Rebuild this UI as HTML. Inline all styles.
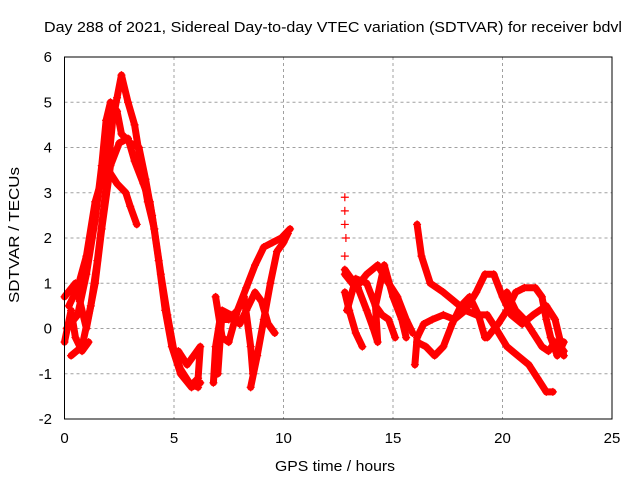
<!DOCTYPE html>
<html><head><meta charset="utf-8"><style>
body{margin:0;background:#fff}
svg{display:block;font-family:"Liberation Sans",sans-serif}
</style></head><body>
<svg id="chart" width="640" height="480">
<text x="44" y="32" font-size="15" textLength="578" lengthAdjust="spacingAndGlyphs">Day 288 of 2021, Sidereal Day-to-day VTEC variation (SDTVAR) for receiver bdvl</text>
<text x="275" y="471" font-size="15" textLength="120" lengthAdjust="spacingAndGlyphs">GPS time / hours</text>
<text transform="translate(19,303) rotate(-90)" font-size="15" textLength="136" lengthAdjust="spacingAndGlyphs">SDTVAR / TECUs</text>
<g id="grid"></g><g id="ticks"></g><g id="marks"></g>
<rect x="64.5" y="57" width="547.5" height="362" fill="none" stroke="#000" stroke-width="1"/>
</svg>
<script>
const xTicks=[0,5,10,15,20,25];
const yTicks=[-2,-1,0,1,2,3,4,5,6];
const arcA=[[0.3,-0.6],[0.8,-0.4],[1.2,0.5],[1.5,1.5],[1.8,2.7],[2.0,3.6],[2.2,4.6],[2.4,5.1],[2.6,5.6],[2.9,5.0],[3.2,4.5],[3.5,3.6],[3.8,2.8],[4.1,2.2],[4.4,1.2],[4.7,0.3],[5.0,-0.5],[5.3,-0.9],[5.7,-1.2],[6.1,-1.3]];
const arcB=[[0.1,0.0],[0.6,0.3],[1.0,1.2],[1.4,2.4],[1.7,3.6],[1.9,4.6],[2.1,5.0],[2.4,4.8],[2.6,4.3],[3.0,4.1],[3.4,4.0],[3.7,3.3],[4.0,2.5],[4.3,1.5],[4.6,0.4],[4.9,-0.4],[5.3,-1.0],[5.8,-1.3],[6.2,-1.2]];
const arcC=[[0.2,0.5],[0.6,0.9],[1.0,1.6],[1.4,2.8],[1.7,3.3],[2.0,3.5],[2.4,3.2],[2.8,3.0],[3.0,2.7],[3.3,2.3]];
const arcD=[[0.0,0.7],[0.5,1.0],[0.7,0.6],[1.0,0.0],[1.4,1.0],[1.7,2.2],[2.1,3.6],[2.5,4.1],[2.9,4.2],[3.2,3.7],[3.6,3.2],[3.9,2.8],[4.1,2.2]];
const arcE=[[0.0,-0.3],[0.3,0.4],[0.5,-0.2],[0.8,-0.5],[1.1,-0.3]];
const arcF=[[5.2,-0.5],[5.6,-0.8],[5.9,-0.6],[6.2,-0.4],[6.1,-1.1],[5.9,-1.2]];
const arcG=[[6.8,-1.2],[6.9,-0.4],[7.1,0.2],[7.5,0.2],[7.9,0.4],[8.3,0.9],[8.7,1.4],[9.1,1.8],[9.5,1.9],[9.9,2.0],[10.3,2.2]];
const arcH=[[7.0,-1.0],[7.2,0.4],[7.6,0.3],[8.0,0.1],[8.3,0.4],[8.7,0.8],[9.0,0.6],[9.3,0.1],[9.6,-0.1]];
const arcI=[[8.5,-1.3],[8.8,-0.6],[9.1,0.2],[9.4,1.0],[9.7,1.7],[10.0,1.9],[10.2,2.1]];
const arcJ=[[6.9,0.7],[7.2,-0.2],[7.5,-0.3],[7.9,0.4],[8.2,0.7],[8.5,-0.4],[8.6,-1.0]];
const arcK=[[12.8,2.9],[12.8,2.6],[12.8,2.3],[12.85,2.0],[12.8,1.6]];
const arcL=[[12.8,1.2],[13.3,0.9],[13.8,1.2],[14.3,1.4],[14.8,1.0],[15.2,0.7],[15.6,0.2],[15.9,-0.1]];
const arcM=[[12.8,0.8],[13.0,0.4],[13.3,-0.1],[13.6,-0.4]];
const arcN=[[12.9,0.4],[13.3,1.1],[13.8,1.0],[14.2,0.5],[14.5,0.3],[14.8,0.2],[15.1,-0.2]];
const arcO=[[12.8,1.3],[13.4,0.9],[13.8,0.4],[14.1,0.0],[14.3,-0.3],[14.2,0.5],[14.6,1.4],[15.0,0.7],[15.4,0.2],[15.6,-0.2]];
const arcP=[[16.1,2.3],[16.3,1.6],[16.7,1.0],[17.3,0.8],[17.8,0.6],[18.3,0.4],[18.8,0.3],[19.3,0.3],[19.7,0.0],[20.2,-0.4],[20.7,-0.6],[21.2,-0.8],[21.6,-1.1],[22.0,-1.4],[22.3,-1.4]];
const arcQ=[[16.0,-0.8],[16.1,-0.2],[16.4,0.1],[16.8,0.2],[17.3,0.3],[17.8,0.2],[18.3,0.4],[18.8,0.8],[19.2,1.2],[19.6,1.2],[20.0,0.7],[20.4,0.3],[20.9,0.1],[21.4,0.3],[22.0,0.5],[22.4,0.2],[22.8,-0.6]];
const arcR=[[16.1,-0.3],[16.5,-0.4],[16.9,-0.6],[17.3,-0.4],[17.7,0.1],[18.1,0.5],[18.5,0.7],[18.9,0.3],[19.2,-0.2]];
const arcS=[[19.3,-0.2],[19.8,0.1],[20.2,0.4],[20.6,0.8],[21.0,0.9],[21.5,0.9],[21.8,0.7],[22.0,0.2],[22.2,-0.2],[22.5,-0.6],[22.8,-0.3]];
const arcT=[[20.2,0.8],[20.6,0.4],[21.0,0.2],[21.4,-0.1],[21.8,-0.4],[22.1,-0.5],[22.4,-0.3],[22.8,-0.5]];
const arcs=[arcA,arcB,arcC,arcD,arcE,arcF,arcG,arcH,arcI,arcJ,arcK,arcL,arcM,arcN,arcO,arcP,arcQ,arcR,arcS,arcT];
const NS="http://www.w3.org/2000/svg";
const X0=64.5,X1=612,Y0=419,Y1=57;
function sx(t){return X0+(t-0)/(25-0)*(X1-X0);}
function sy(v){return Y0-(v+2)/(6+2)*(Y0-Y1);}
function mk(tag,attrs,parent){const e=document.createElementNS(NS,tag);for(const k in attrs)e.setAttribute(k,attrs[k]);parent.appendChild(e);return e;}
const grid=document.getElementById('grid'),ticks=document.getElementById('ticks'),marks=document.getElementById('marks');
xTicks.forEach(t=>{const x=sx(t);
 if(t>0&&t<25){const g=mk('line',{x1:x,x2:x,y1:Y1,y2:Y0,stroke:'#a0a0a0','stroke-dasharray':'3,3'},grid);
 
 }
 const l=mk('text',{x:x,y:443,'font-size':15,'text-anchor':'middle'},ticks);l.textContent=t;
 
 });
yTicks.forEach(v=>{const y=sy(v);
 if(v>-2&&v<6){const g=mk('line',{x1:X0,x2:X1,y1:y,y2:y,stroke:'#a0a0a0','stroke-dasharray':'3,3'},grid);
 
 }
 const l=mk('text',{x:52,y:y+5,'font-size':15,'text-anchor':'end'},ticks);l.textContent=v;
 
 });
arcs.forEach((arc,i)=>{
 const g=mk('g',{},marks);
 
 
 if(arc!==arcK){mk('polyline',{points:arc.map(p=>sx(p[0])+','+sy(p[1])).join(' '),fill:'none',stroke:'#ff0000','stroke-width':7,'stroke-linejoin':'round','stroke-linecap':'round'},g);}
 arc.forEach(p=>{const x=sx(p[0]),y=sy(p[1]);
  mk('path',{d:`M${x-4},${y}H${x+4}M${x},${y-4}V${y+4}`,stroke:'#ff0000','stroke-width':1.2},g);});
});
</script>
</body></html>
